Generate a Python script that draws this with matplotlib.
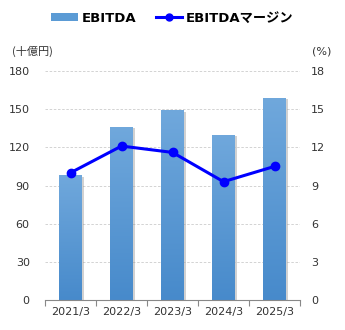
import matplotlib
matplotlib.use("Agg")
import matplotlib.pyplot as plt
import numpy as np
from matplotlib.lines import Line2D
from matplotlib.patches import Patch
import matplotlib.patheffects as pe
from matplotlib.colors import LinearSegmentedColormap

plt.rcParams['font.family'] = ['DejaVu Sans', 'Noto Sans CJK JP']

categories = ["2021/3", "2022/3", "2023/3", "2024/3", "2025/3"]
ebitda = [98, 136, 149, 130, 159]
margin = [10.0, 12.1, 11.6, 9.3, 10.5]
left_ticks = [0, 30, 60, 90, 120, 150, 180]
right_ticks = [0, 3, 6, 9, 12, 15, 18]

fig = plt.figure(figsize=(3.45, 3.3), dpi=100)
ax = fig.add_axes([45/345, 30/330, 255/345, 229/330])
x = np.arange(len(categories))

bars = ax.bar(x, ebitda, width=0.45, color='#5b9bd5', zorder=2,
              path_effects=[pe.SimplePatchShadow(offset=(1.2, -1), shadow_rgbFace='#999999', alpha=0.45), pe.Normal()])
grad = np.linspace(0, 1, 256).reshape(-1, 1)
cmap = LinearSegmentedColormap.from_list('g', ['#478acb', '#70a8dc'])
for b in bars:
    bx, by = b.get_x(), b.get_y()
    w, h = b.get_width(), b.get_height()
    im = ax.imshow(grad, extent=[bx, bx + w, by, by + h], origin='lower', cmap=cmap,
                   aspect='auto', zorder=2.1)
    im.set_clip_path(b)

ax.set_xlim(-0.5, len(categories) - 0.5)
ax.set_ylim(0, 180)
ax.set_yticks(left_ticks)
ax.yaxis.grid(True, color='#cccccc', linestyle=(0, (3, 2)), linewidth=0.6, zorder=0)
ax.set_axisbelow(True)
ax.set_xticks(np.arange(-0.5, len(categories), 1))
ax.set_xticklabels([])
ax.set_xticks(x, minor=True)
ax.set_xticklabels(categories, minor=True)
ax.tick_params(axis='x', which='major', length=4, color='#888888', direction='out')
ax.tick_params(axis='x', which='minor', length=0, labelsize=8, labelcolor='#333333', pad=5)
ax.tick_params(axis='y', length=0, labelsize=8, labelcolor='#333333', pad=11)
for s in ['top', 'right', 'left']:
    ax.spines[s].set_visible(False)
ax.spines['bottom'].set_color('#888888')
ax.spines['bottom'].set_linewidth(0.8)

ax2 = ax.twinx()
ax2.set_ylim(0, 18)
ax2.set_yticks(right_ticks)
ax2.tick_params(axis='y', length=0, labelsize=8, labelcolor='#333333', pad=8)
for s in ['top', 'right', 'left', 'bottom']:
    ax2.spines[s].set_visible(False)
ax2.plot(x, margin, color='#0000ff', linewidth=2.2, marker='o', markersize=6, zorder=5)

fig.text(12/345, 1 - 51/330, "(十億円)", fontsize=8, color='#333333', va='center', ha='left',
         family=['Noto Sans CJK JP', 'DejaVu Sans'])
fig.text(331/345, 1 - 51/330, "(%)", fontsize=8, color='#333333', va='center', ha='right')

handles = [Patch(facecolor='#5b9bd5', edgecolor='none'),
           Line2D([0], [0], color='#0000ff', linewidth=2.2, marker='o', markersize=5)]
fig.legend(handles, ["EBITDA", "EBITDAマージン"], loc='center', bbox_to_anchor=(0.5, 1 - 18/330),
           ncol=2, frameon=False, prop={'size': 9.5, 'weight': 'bold'},
           handlelength=2.0, handleheight=0.6, columnspacing=1.5, handletextpad=0.3)

fig.savefig("out.png", dpi=100)
